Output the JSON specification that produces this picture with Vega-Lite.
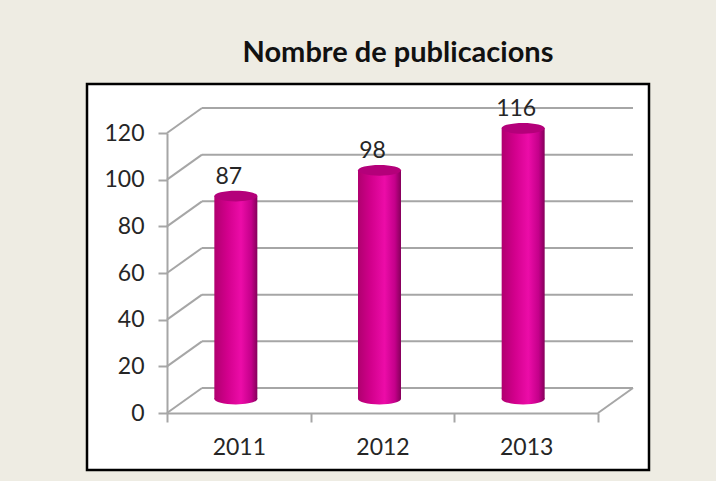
{
  "$schema": "https://vega.github.io/schema/vega-lite/v6.json",
  "autosize": "none",
  "padding": {"left": 87, "top": 84, "right": 67, "bottom": 11},
  "width": 562,
  "height": 386,
  "background": "#EEECE3",
  "title": {
    "text": "Nombre de publicacions",
    "font": "Lato",
    "fontSize": 29,
    "fontWeight": "bold",
    "color": "#111111",
    "anchor": "middle",
    "baseline": "alphabetic",
    "offset": -7,
    "dx": 30
  },
  "datasets": {
    "pubs": [
      {"year": "2011", "value": 87},
      {"year": "2012", "value": 98},
      {"year": "2013", "value": 116}
    ],
    "ticks": [
      {"value": 0}, {"value": 20}, {"value": 40}, {"value": 60},
      {"value": 80}, {"value": 100}, {"value": 120}
    ]
  },
  "config": {
    "view": {"fill": "white", "stroke": "#000000", "strokeWidth": 2.5},
    "font": "Lato",
    "axisY": {
      "offset": -80,
      "domainColor": "#A6A6A6",
      "domainWidth": 2,
      "tickColor": "#A6A6A6",
      "tickWidth": 2,
      "tickSize": 9,
      "labelFont": "Lato",
      "labelFontSize": 23,
      "labelColor": "#262626",
      "labelPadding": 14,
      "grid": false,
      "title": null
    },
    "axisX": {
      "offset": -57,
      "domainColor": "#A6A6A6",
      "domainWidth": 2,
      "tickColor": "#A6A6A6",
      "tickWidth": 2,
      "tickSize": 9,
      "tickBand": "extent",
      "labelFont": "Lato",
      "labelFontSize": 23,
      "labelColor": "#262626",
      "labelPadding": 14,
      "labelAngle": 0,
      "grid": false,
      "title": null
    }
  },
  "layer": [
    {
      "data": {"name": "ticks"},
      "layer": [
        {
          "mark": {"type": "rule", "color": "#A6A6A6", "strokeWidth": 2, "xOffset": 35, "x2Offset": 35, "yOffset": -25, "y2Offset": -25},
          "encoding": {
            "x": {"datum": 0, "type": "quantitative", "scale": {"domain": [0, 1], "range": [80, 511], "nice": false, "zero": false}, "axis": null},
            "x2": {"datum": 1},
            "y": {"field": "value", "type": "quantitative", "scale": {"domain": [0, 120], "range": [329, 49], "nice": false}, "axis": {"values": [0, 20, 40, 60, 80, 100, 120]}}
          }
        },
        {
          "mark": {"type": "rule", "color": "#A6A6A6", "strokeWidth": 2, "x2Offset": 35, "y2Offset": -25},
          "encoding": {
            "x": {"datum": 0, "type": "quantitative"},
            "x2": {"datum": 0},
            "y": {"field": "value", "type": "quantitative"},
            "y2": {"field": "value"}
          }
        },
        {
          "transform": [{"filter": "datum.value == 0"}],
          "mark": {"type": "rule", "color": "#A6A6A6", "strokeWidth": 2, "x2Offset": 35, "y2Offset": -25},
          "encoding": {
            "x": {"datum": 1, "type": "quantitative"},
            "x2": {"datum": 1},
            "y": {"field": "value", "type": "quantitative"},
            "y2": {"field": "value"}
          }
        }
      ]
    },
    {
      "data": {"name": "pubs"},
      "encoding": {
        "x": {"field": "year", "type": "nominal", "scale": {"range": [80, 511], "paddingInner": 0, "paddingOuter": 0}, "axis": {"orient": "bottom"}}
      },
      "layer": [
        {
          "mark": {
            "type": "bar",
            "width": 43,
            "xOffset": -3,
            "yOffset": -14,
            "y2Offset": -14,
            "color": {
              "gradient": "linear", "x1": 0, "x2": 1, "y1": 0, "y2": 0,
              "stops": [
                {"offset": 0, "color": "#B0006F"},
                {"offset": 0.3, "color": "#D2008C"},
                {"offset": 0.62, "color": "#EC0CA8"},
                {"offset": 0.86, "color": "#C4008A"},
                {"offset": 1, "color": "#85005A"}
              ]
            }
          },
          "encoding": {
            "y": {"field": "value", "type": "quantitative"}
          }
        },
        {
          "mark": {
            "type": "point",
            "filled": true,
            "opacity": 1,
            "size": 1849,
            "xOffset": -3,
            "yOffset": -14,
            "shape": "M -1 0 A 1 0.25 0 1 0 1 0 A 1 0.25 0 1 0 -1 0 Z",
            "color": {
              "gradient": "linear", "x1": 0, "x2": 1, "y1": 0, "y2": 0,
              "stops": [
                {"offset": 0, "color": "#B0006F"},
                {"offset": 0.3, "color": "#D2008C"},
                {"offset": 0.62, "color": "#EC0CA8"},
                {"offset": 0.86, "color": "#C4008A"},
                {"offset": 1, "color": "#85005A"}
              ]
            }
          },
          "encoding": {
            "y": {"datum": 0, "type": "quantitative"}
          }
        },
        {
          "mark": {
            "type": "point",
            "filled": true,
            "opacity": 1,
            "size": 1849,
            "xOffset": -3,
            "yOffset": -14,
            "shape": "M -1 0 A 1 0.25 0 1 0 1 0 A 1 0.25 0 1 0 -1 0 Z",
            "color": "#B4007A"
          },
          "encoding": {
            "y": {"field": "value", "type": "quantitative"}
          }
        },
        {
          "mark": {"type": "text", "fontSize": 23, "color": "#262626", "baseline": "middle", "align": "center", "xOffset": -10, "yOffset": -33},
          "encoding": {
            "y": {"field": "value", "type": "quantitative"},
            "text": {"field": "value", "type": "quantitative"}
          }
        }
      ]
    }
  ],
  "resolve": {"scale": {"x": "independent"}}
}
